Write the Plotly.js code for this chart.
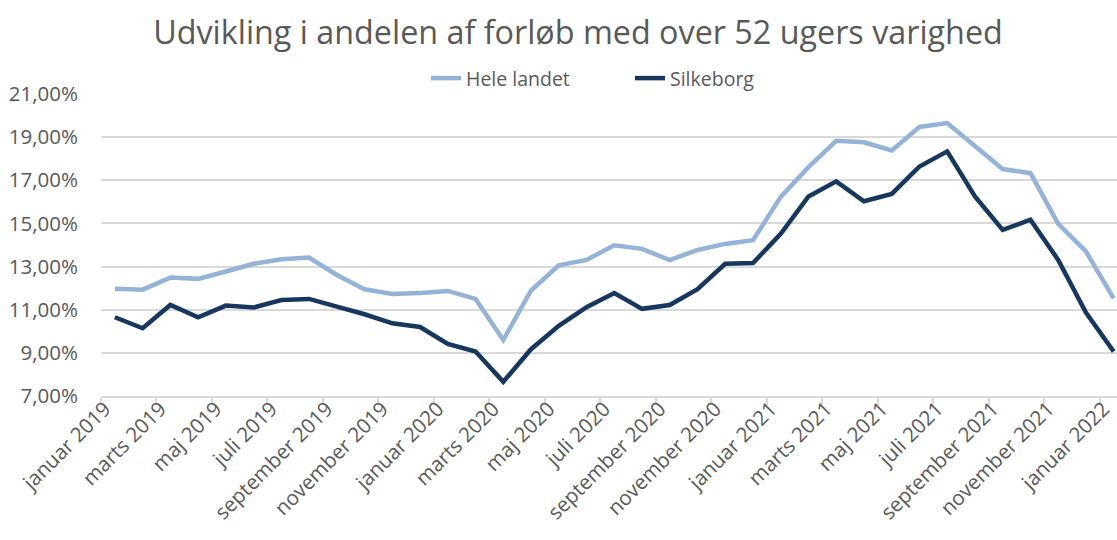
<!DOCTYPE html>
<html>
<head>
<meta charset="utf-8">
<script src="https://cdn.plot.ly/plotly-3.0.1.min.js"></script>
<style>
html,body{margin:0;padding:0;background:#fff;overflow:hidden;}
#chart{width:1117px;height:540px;}
</style>
</head>
<body>
<div id="chart"></div>
<script>
const categories = [
  "januar 2019","februar 2019","marts 2019","april 2019","maj 2019","juni 2019","juli 2019","august 2019","september 2019","oktober 2019","november 2019","december 2019",
  "januar 2020","februar 2020","marts 2020","april 2020","maj 2020","juni 2020","juli 2020","august 2020","september 2020","oktober 2020","november 2020","december 2020",
  "januar 2021","februar 2021","marts 2021","april 2021","maj 2021","juni 2021","juli 2021","august 2021","september 2021","oktober 2021","november 2021","december 2021",
  "januar 2022"
];

const heleLandet = [
  11.97, 11.93, 12.49, 12.43, 12.77, 13.13, 13.34, 13.42, 12.61, 11.95, 11.73, 11.77,
  11.87, 11.50, 9.60, 11.89, 13.06, 13.31, 13.99, 13.82, 13.30, 13.77, 14.05, 14.22,
  16.23, 17.61, 18.83, 18.76, 18.38, 19.47, 19.65, 18.57, 17.52, 17.33, 14.98, 13.70,
  11.53
];

const silkeborg = [
  10.65, 10.14, 11.22, 10.65, 11.19, 11.10, 11.45, 11.50, 11.14, 10.79, 10.37, 10.20,
  9.41, 9.06, 7.66, 9.17, 10.25, 11.12, 11.77, 11.04, 11.22, 11.95, 13.13, 13.16,
  14.52, 16.25, 16.95, 16.03, 16.37, 17.64, 18.34, 16.25, 14.70, 15.17, 13.31, 10.87,
  9.06
];

const seriesNames = ["Hele landet", "Silkeborg"];
const titleText = "Udvikling i andelen af forløb med over 52 ugers varighed";

const idx = categories.map((c, i) => i);
const tickIdx = idx.filter(i => i % 2 === 0);
const tickText = tickIdx.map(i => categories[i]);

const FONT = "Open Sans, sans-serif";
const GREY = "#595959";

const traces = [
  {x: idx, y: heleLandet, name: seriesNames[0], type: "scatter", mode: "lines",
   line: {color: "#95b3d7", width: 4.5}, text: categories, hovertemplate: "%{text}: %{y:.2f}%<extra></extra>"},
  {x: idx, y: silkeborg, name: seriesNames[1], type: "scatter", mode: "lines",
   line: {color: "#17375e", width: 4.5}, text: categories, hovertemplate: "%{text}: %{y:.2f}%<extra></extra>"}
];

const layout = {
  width: 1117, height: 540,
  paper_bgcolor: "#ffffff", plot_bgcolor: "#ffffff",
  separators: ",.",
  margin: {l: 101, r: 0, t: 94, b: 144, pad: 0},
  font: {family: FONT, color: GREY},
  title: {text: titleText, font: {family: FONT, size: 32.3, color: GREY},
          xref: "container", x: 578/1117, xanchor: "center",
          yref: "container", y: 1 - 33/540, yanchor: "middle"},
  showlegend: true,
  legend: {orientation: "h", xref: "paper", x: (426 - 101)/1016, xanchor: "left",
           yref: "paper", y: 0.987, yanchor: "bottom",
           font: {family: FONT, size: 19.5, color: GREY},
           entrywidth: 159, entrywidthmode: "pixels",
           bgcolor: "rgba(0,0,0,0)", traceorder: "normal"},
  xaxis: {type: "linear", range: [-0.5, 36.12], fixedrange: true,
          tickmode: "array", tickvals: tickIdx, ticktext: tickText,
          tickangle: -45, ticks: "", showgrid: false, zeroline: false,
          showline: true, linecolor: "#d9d9d9", linewidth: 1.5,
          ticklabeloverflow: "allow", ticklabelshift: -10, ticklabelstandoff: -9,
          tickfont: {family: FONT, size: 20.5, color: GREY},
          minor: {ticks: "outside", tickmode: "linear", tick0: -0.5, dtick: 2,
                  ticklen: 7, tickwidth: 1.5, tickcolor: "#d9d9d9", showgrid: false}},
  yaxis: {range: [7, 21], dtick: 2, tick0: 7, fixedrange: true,
          tickformat: ".2f", ticksuffix: "%",
          showgrid: true, gridcolor: "#d9d9d9", gridwidth: 1.5,
          zeroline: false, showline: false, ticks: "",
          ticklabelstandoff: 22,
          tickfont: {family: FONT, size: 20.5, color: GREY}}
};

Plotly.newPlot("chart", traces, layout, {displayModeBar: false, staticPlot: false});
</script>
</body>
</html>
